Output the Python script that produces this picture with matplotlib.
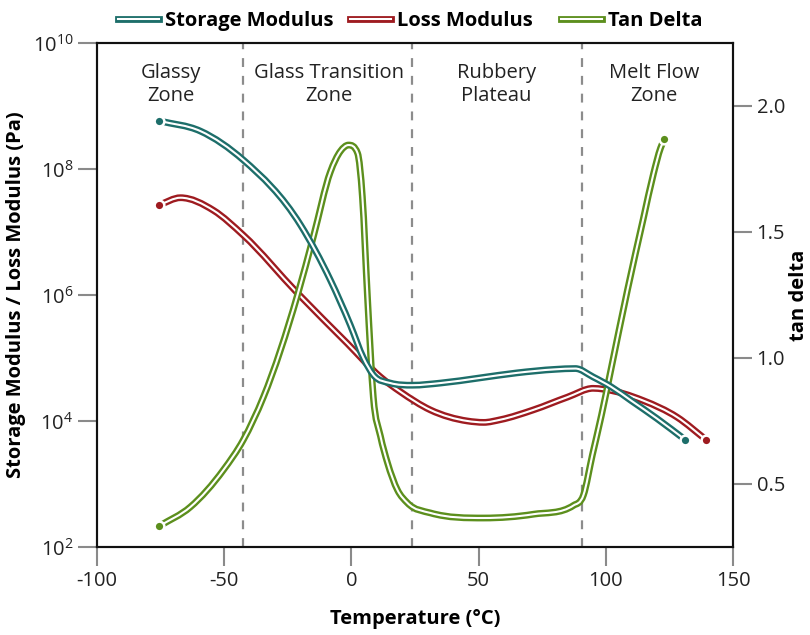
import numpy as np
import matplotlib
matplotlib.use("Agg")
import matplotlib.pyplot as plt
from matplotlib.path import Path
from matplotlib.patches import PathPatch
from matplotlib.lines import Line2D
import matplotlib.patheffects as pe
from matplotlib.ticker import FixedLocator, FuncFormatter, NullLocator

plt.rcParams["font.family"] = ["Open Sans", "DejaVu Sans"]
plt.rcParams["mathtext.fontset"] = "custom"
plt.rcParams["mathtext.rm"] = "Open Sans"
plt.rcParams["mathtext.it"] = "Open Sans:italic"
plt.rcParams["mathtext.bf"] = "Open Sans:bold"

# ---- data -------------------------------------------------------------
storage_temp = [-75.5, -59.4, -42.5, -20.0, -8.3, -0.4, 4.7, 8.6, 15.3, 24,
                35, 50, 65, 80, 88, 95, 102, 110, 120, 131.3]
storage_pa = [5.8e8, 4.0e8, 1.39e8, 1.29e7, 1.73e6, 3.3e5, 1.0e5, 5.4e4, 4.0e4, 3.7e4,
              4.0e4, 4.8e4, 5.8e4, 6.6e4, 6.8e4, 5.0e4, 3.5e4, 2.1e4, 1.1e4, 5.0e3]

loss_temp = [-75.5, -67.2, -54.2, -42.5, -21.2, -1.6, 11.4, 19.3, 31, 45.6, 52,
             58.6, 71.5, 85, 95, 99, 114.8, 128, 139.5]
loss_pa = [2.7e7, 3.5e7, 2.2e7, 8.9e6, 1.07e6, 1.7e5, 5.0e4, 2.9e4, 1.5e4, 1.0e4, 9.5e3,
           1.05e4, 1.5e4, 2.4e4, 3.3e4, 3.2e4, 2.1e4, 1.15e4, 5.0e3]

tan_temp = [-75.5, -63.3, -50.3, -42.5, -34.6, -21.2, -14.9, -8.3, -4.3, -1.2, 2.4, 4.3,
            6.3, 8.6, 11.4, 14.2, 18.1, 22.0, 31.1, 52, 71.5, 87.3, 91.2, 94.7, 98.3,
            101.8, 108.5, 114.8, 118.7, 121.5, 123]
tan_delta = [0.333, 0.409, 0.556, 0.675, 0.845, 1.25, 1.484, 1.738, 1.821, 1.845, 1.813,
             1.639, 1.242, 0.845, 0.69, 0.583, 0.476, 0.425, 0.385, 0.365, 0.38, 0.415,
             0.456, 0.615, 0.774, 0.944, 1.27, 1.556, 1.73, 1.833, 1.869]

zone_bounds = [-42.5, 24, 90.5]
zone_centers = [-71, -9, 57, 119]
zone_labels = ["Glassy\nZone", "Glass Transition\nZone", "Rubbery\nPlateau", "Melt Flow\nZone"]

series_names = ["Storage Modulus", "Loss Modulus", "Tan Delta"]

x_ticks = [-100, -50, 0, 50, 100, 150]
y_left_ticks = [1e2, 1e4, 1e6, 1e8, 1e10]
y_right_ticks = [0.5, 1.0, 1.5, 2.0]

TEAL = "#1d6e6a"
RED = "#9e1b20"
GREEN = "#5c8f1d"
GRID_GRAY = "#8c8c8c"
TICK_GRAY = "#8a8a8a"


def smooth_slopes(x, y):
    """Three-point (parabolic) tangents, limited so each segment stays monotone."""
    x = np.asarray(x, float)
    y = np.asarray(y, float)
    h = np.diff(x)
    d = np.diff(y) / h
    m = np.zeros_like(y)
    for k in range(1, len(x) - 1):
        if d[k - 1] * d[k] <= 0:
            m[k] = 0.0
            continue
        c = (h[k] * d[k - 1] + h[k - 1] * d[k]) / (h[k - 1] + h[k])
        lim = 3.0 * min(abs(d[k - 1]), abs(d[k]))
        m[k] = np.sign(c) * min(abs(c), lim)
    m[0] = d[0]
    m[-1] = d[-1]
    return m


def smooth_path(x, y, log=False):
    """Cubic Bezier path through the points."""
    x = np.asarray(x, float)
    y = np.asarray(y, float)
    yy = np.log10(y) if log else y
    m = smooth_slopes(x, yy)
    back = (lambda v: 10.0 ** v) if log else (lambda v: v)
    verts = [(x[0], back(yy[0]))]
    codes = [Path.MOVETO]
    for i in range(len(x) - 1):
        h = x[i + 1] - x[i]
        verts.append((x[i] + h / 3, back(yy[i] + m[i] * h / 3)))
        verts.append((x[i + 1] - h / 3, back(yy[i + 1] - m[i + 1] * h / 3)))
        verts.append((x[i + 1], back(yy[i + 1])))
        codes += [Path.CURVE4] * 3
    return Path(verts, codes)


def double_effect(color):
    return [pe.Stroke(linewidth=4.9, foreground=color), pe.Normal()]


fig = plt.figure(figsize=(8.1, 6.35), dpi=100)
ax = fig.add_axes([0.1198, 0.1386, 0.7852, 0.7937])
ax2 = ax.twinx()

ax.set_xlim(-100, 150)
ax.set_yscale("log")
ax.set_ylim(1e2, 1e10)
ax2.set_ylim(0.25, 2.25)

# zone separators
for b in zone_bounds:
    ax.axvline(b, color=GRID_GRAY, lw=1.6, dashes=(4, 4), zorder=1)

# zone names
for xc, lab in zip(zone_centers, zone_labels):
    ax.text(xc, 0.917, lab, transform=ax.get_xaxis_transform(), ha="center",
            va="center", fontsize=14.5, color="#222222", linespacing=1.2)

# curves (tan delta uses the secondary scale but lives on the main axes for layering)
curves = [
    (smooth_path(loss_temp, loss_pa, log=True), ax.transData, RED, 2),
    (smooth_path(tan_temp, tan_delta), ax2.transData, GREEN, 3),
    (smooth_path(storage_temp, storage_pa, log=True), ax.transData, TEAL, 4),
]
for path, trans, color, z in curves:
    patch = PathPatch(path, facecolor="none", edgecolor="white", lw=1.5,
                      transform=trans, zorder=z, capstyle="butt", joinstyle="round")
    patch.set_path_effects(double_effect(color))
    ax.add_artist(patch)

# end-point dots
dot_kw = dict(marker="o", ms=7, mew=1.8, mec="white", ls="none", zorder=6, clip_on=False)
ax.plot([storage_temp[0], storage_temp[-1]], [storage_pa[0], storage_pa[-1]], mfc=TEAL, **dot_kw)
ax.plot([loss_temp[0], loss_temp[-1]], [loss_pa[0], loss_pa[-1]], mfc=RED, **dot_kw)
ax.plot([tan_temp[0], tan_temp[-1]], [tan_delta[0], tan_delta[-1]], mfc=GREEN,
        transform=ax2.transData, **dot_kw)

ax.set_xlim(-100, 150)
ax.set_ylim(1e2, 1e10)

# axes styling
ax.xaxis.set_major_locator(FixedLocator(x_ticks))
ax.xaxis.set_major_formatter(FuncFormatter(lambda v, p: f"{v:g}"))
ax.yaxis.set_major_locator(FixedLocator(y_left_ticks))
ax.yaxis.set_minor_locator(NullLocator())
ax.yaxis.set_major_formatter(FuncFormatter(lambda v, p: r"$10^{%d}$" % round(np.log10(v))))
ax2.yaxis.set_major_locator(FixedLocator(y_right_ticks))
ax2.yaxis.set_major_formatter(FuncFormatter(lambda v, p: f"{v:.1f}"))

for a in (ax, ax2):
    for s in a.spines.values():
        s.set_linewidth(1.5)
        s.set_color("#111111")
    a.tick_params(axis="both", which="major", length=14, width=1.5, color=TICK_GRAY,
                  labelsize=14.5, labelcolor="#222222", pad=3)

ax.set_xlabel("Temperature (°C)", fontsize=14.5, fontweight="bold", labelpad=13)
ax.set_ylabel("Storage Modulus / Loss Modulus (Pa)", fontsize=14.5, fontweight="bold",
              labelpad=5)
ax2.set_ylabel("tan delta", fontsize=14.5, fontweight="bold", labelpad=3)

# legend: one entry per series, placed along the top
legend_x = [0.1457, 0.432, 0.6926]
for name, color, lx in zip(series_names, [TEAL, RED, GREEN], legend_x):
    h = Line2D([], [], color="white", lw=1.5, path_effects=double_effect(color))
    fig.legend([h], [name], loc="center left", bbox_to_anchor=(lx, 0.967),
               frameon=False, handlelength=2.05, handletextpad=0.3, borderpad=0,
               borderaxespad=0, prop={"size": 14.5, "weight": "bold"})

fig.savefig("out.png", dpi=100)
